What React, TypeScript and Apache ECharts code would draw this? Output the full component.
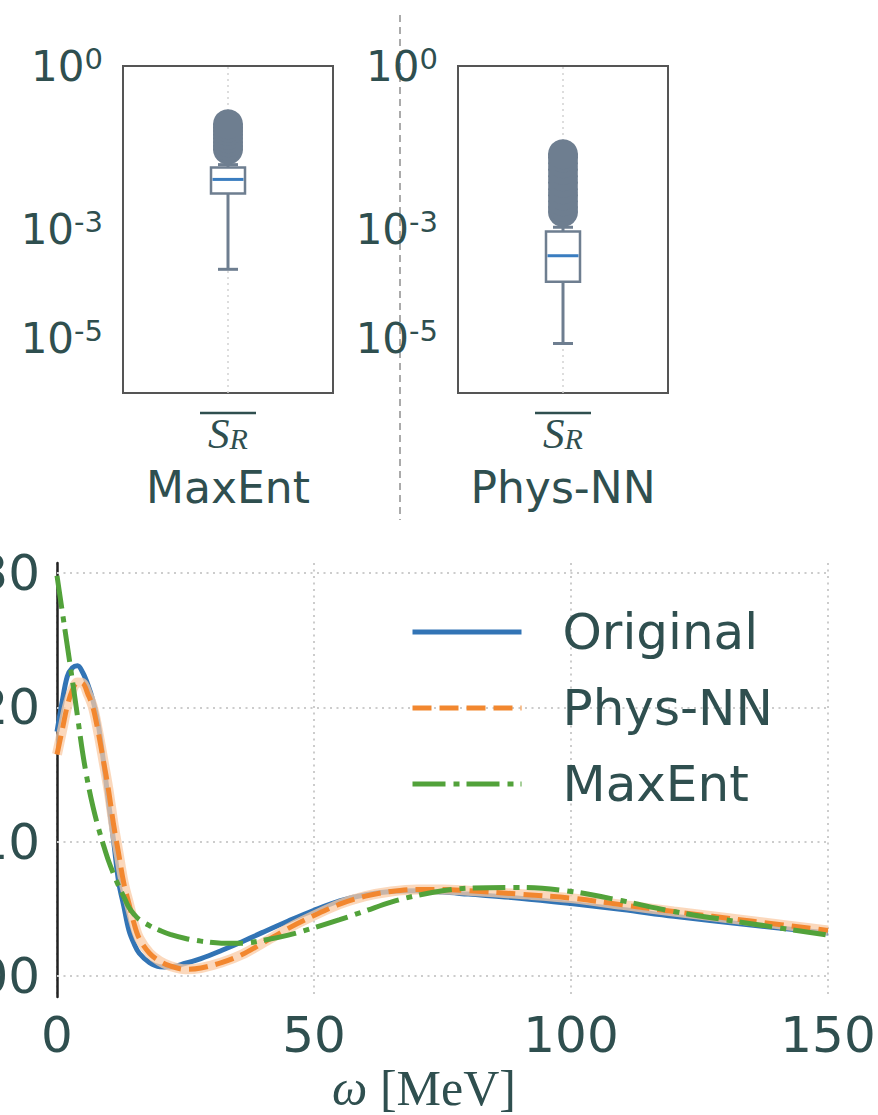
import React, { useEffect, useRef } from 'react';
import * as echarts from 'echarts';

const TEXT = '#2F4F4F';
const SLATE = '#6E7E90';
const GRID = '#cccccc';

// Bottom panel: spectral function rho(omega)
const omega = [0, 1, 2, 3, 4, 5, 6, 7, 8, 9, 10, 11, 12, 13, 14, 15, 16, 18, 20, 22, 25, 28, 32, 36, 40, 45, 50, 55, 60, 65, 70, 75, 80, 90, 100, 110, 120, 135, 150];
const original = [18.2, 20.4, 22.3, 22.95, 23.1, 22.6, 21.7, 20.5, 18.8, 16.1, 13.0, 10.1, 7.0, 5.2, 3.4, 2.4, 1.7, 1.0, 0.7, 0.68, 0.95, 1.3, 1.9, 2.55, 3.25, 4.1, 4.9, 5.6, 6.05, 6.3, 6.35, 6.25, 6.1, 5.8, 5.4, 4.95, 4.45, 3.8, 3.2];
const physNN = [16.5, 18.3, 20.1, 21.3, 21.85, 21.8, 21.0, 20.0, 18.2, 16.1, 13.9, 11.3, 9.1, 6.9, 5.4, 3.9, 2.8, 1.7, 1.1, 0.75, 0.5, 0.6, 1.0, 1.6, 2.45, 3.55, 4.5, 5.35, 5.95, 6.3, 6.45, 6.45, 6.35, 6.1, 5.8, 5.3, 4.8, 4.1, 3.4];
const maxEnt = [29.8, 27.2, 24.6, 22.0, 19.3, 16.6, 14.4, 12.6, 11.1, 9.8, 8.6, 7.6, 6.7, 5.9, 5.1, 4.6, 4.2, 3.75, 3.4, 3.1, 2.8, 2.6, 2.45, 2.45, 2.65, 3.05, 3.6, 4.2, 4.85, 5.5, 6.0, 6.35, 6.55, 6.6, 6.3, 5.6, 4.8, 3.9, 3.05];
const lineNames = ['Original', 'Phys-NN', 'MaxEnt'];
const rhoTicks = [0, 10, 20, 30];
const omegaTicks = [0, 50, 100, 150];

// Top panels: box plots of S_R (min whisker, Q1, median, Q3, max whisker)
const boxNames = ['MaxEnt', 'Phys-NN'];
const boxCategory = ['S_R'];
const maxEntBox = [1.86e-4, 0.0046, 0.0083, 0.0138, 0.0155];
const physNNBox = [8.1e-6, 1.1e-4, 3.3e-4, 9.2e-4, 1.1e-3];
const maxEntOutliers = [0.0294, 0.034, 0.04, 0.047, 0.055, 0.064, 0.074, 0.085];
const physNNOutliers = [0.0021, 0.0026, 0.0033, 0.0042, 0.0055, 0.0072, 0.0095, 0.0125, 0.0165, 0.021, 0.024];
const logTickExps = [0, -3, -5];
const logGridValues = [1e-3, 1e-5];

const dotted = { type: [2, 4.5] as any, color: GRID, width: 2 };

function boxPanel(idx: number, stats: number[], outliers: number[], name: string) {
  const xAxis = {
    type: 'value',
    gridIndex: idx,
    min: -0.5,
    max: 0.5,
    interval: 0.5,
    axisLine: { show: false },
    axisTick: { show: false },
    splitLine: { show: false },
    axisLabel: {
      margin: 20,
      formatter: (v: number) => (Math.abs(v) < 1e-9 ? `{s|${boxCategory[0][0]}}{r|${boxCategory[0][2]}}` : ''),
      rich: {
        s: { fontFamily: 'Liberation Serif', fontStyle: 'italic', fontSize: 43, lineHeight: 40, color: TEXT },
        r: { fontFamily: 'Liberation Serif', fontStyle: 'italic', fontSize: 30, lineHeight: 18, verticalAlign: 'bottom', color: TEXT },
      },
    },
    name,
    nameLocation: 'middle',
    nameGap: 72,
    nameTextStyle: { fontFamily: 'DejaVu Sans', fontSize: 44, color: TEXT, lineHeight: 44 },
  };
  const yAxis = {
    type: 'log',
    gridIndex: idx,
    min: 1e-6,
    max: 1,
    logBase: 10,
    axisLine: { show: false },
    axisTick: { show: false },
    splitLine: { show: false },
    axisLabel: {
      margin: 20,
      showMinLabel: false,
      formatter: (v: number) => {
        const e = Math.round(Math.log10(v));
        return logTickExps.includes(e) ? `{b|10}{s|${e}}` : '';
      },
      rich: {
        b: { fontFamily: 'DejaVu Sans', fontSize: 42, lineHeight: 44, color: TEXT },
        s: { fontFamily: 'DejaVu Sans', fontSize: 29, lineHeight: 20, verticalAlign: 'top', color: TEXT },
      },
    },
  };
  const boxSeries = {
    type: 'custom',
    xAxisIndex: idx,
    yAxisIndex: idx,
    z: 3,
    data: [[0, ...stats]],
    renderItem: (_p: any, api: any) => {
      const x = api.value(0);
      const lo = api.coord([x, api.value(1)]);
      const q1 = api.coord([x, api.value(2)]);
      const md = api.coord([x, api.value(3)]);
      const q3 = api.coord([x, api.value(4)]);
      const hi = api.coord([x, api.value(5)]);
      const bw = 34;
      const cw = 20;
      const st = { stroke: SLATE, lineWidth: 3 };
      return {
        type: 'group',
        children: [
          { type: 'line', shape: { x1: lo[0], y1: lo[1], x2: lo[0], y2: q1[1] }, style: st },
          { type: 'line', shape: { x1: hi[0], y1: hi[1], x2: hi[0], y2: q3[1] }, style: st },
          { type: 'line', shape: { x1: lo[0] - cw / 2, y1: lo[1], x2: lo[0] + cw / 2, y2: lo[1] }, style: st },
          { type: 'line', shape: { x1: hi[0] - cw / 2, y1: hi[1], x2: hi[0] + cw / 2, y2: hi[1] }, style: st },
          { type: 'rect', shape: { x: q3[0] - bw / 2, y: q3[1], width: bw, height: q1[1] - q3[1] }, style: { fill: '#ffffff', stroke: SLATE, lineWidth: 2.5 } },
          { type: 'line', shape: { x1: md[0] - bw / 2 + 1.5, y1: md[1], x2: md[0] + bw / 2 - 1.5, y2: md[1] }, style: { stroke: '#3A7DC0', lineWidth: 3 } },
        ],
      };
    },
  };
  const outlierSeries = {
    type: 'scatter',
    xAxisIndex: idx,
    yAxisIndex: idx,
    z: 4,
    symbol: 'circle',
    symbolSize: 30,
    itemStyle: { color: SLATE, opacity: 1 },
    data: outliers.map((v) => [0, v]),
    markLine: {
      silent: true,
      symbol: 'none',
      z: 1,
      label: { show: false },
      lineStyle: { type: [2, 4] as any, color: '#d2d2d2', width: 1.5 },
      data: [...logGridValues.map((v) => ({ yAxis: v })), { xAxis: 0 }],
    },
  };
  return { xAxis, yAxis, series: [boxSeries, outlierSeries] };
}

function App() {
  const ref = useRef<HTMLDivElement>(null);
  useEffect(() => {
    if (!ref.current) return;
    const chart = echarts.init(ref.current, undefined, { renderer: 'svg' });
    const p0 = boxPanel(0, maxEntBox, maxEntOutliers, boxNames[0]);
    const p1 = boxPanel(1, physNNBox, physNNOutliers, boxNames[1]);
    const toPairs = (ys: number[]) => omega.map((x, i) => [x, ys[i]]);
    const lineBase = { type: 'line', xAxisIndex: 2, yAxisIndex: 2, symbol: 'circle', showSymbol: false, smooth: 0.35 };
    const gridBase = { containLabel: false, outerBoundsMode: 'none' };
    const option: any = {
      animation: false,
      backgroundColor: '#ffffff',
      textStyle: { fontFamily: 'DejaVu Sans', color: TEXT },
      grid: [
        { ...gridBase, left: 123, top: 66, width: 210, height: 327, show: true, borderColor: '#555555', borderWidth: 2, backgroundColor: 'transparent' },
        { ...gridBase, left: 458, top: 66, width: 210, height: 327, show: true, borderColor: '#555555', borderWidth: 2, backgroundColor: 'transparent' },
        { ...gridBase, left: 57, top: 563, width: 771, height: 434 },
      ],
      xAxis: [
        p0.xAxis,
        p1.xAxis,
        {
          type: 'value',
          gridIndex: 2,
          min: omegaTicks[0],
          max: omegaTicks[omegaTicks.length - 1],
          interval: 50,
          axisLine: { show: false },
          axisTick: { show: false },
          splitLine: { show: true, lineStyle: dotted },
          axisLabel: { fontFamily: 'DejaVu Sans', fontSize: 50, lineHeight: 50, color: TEXT, margin: 13 },
          name: '{w|ω}{t| [MeV]}',
          nameLocation: 'middle',
          nameGap: 63,
          nameTextStyle: {
            padding: [0, 37, 0, 0],
            rich: {
              w: { fontFamily: 'Liberation Serif', fontStyle: 'italic', fontSize: 50, lineHeight: 56, color: TEXT },
              t: { fontFamily: 'Liberation Serif', fontSize: 50, lineHeight: 56, color: TEXT },
            },
          },
        },
      ],
      yAxis: [
        p0.yAxis,
        p1.yAxis,
        {
          type: 'value',
          gridIndex: 2,
          min: -1.56,
          max: 30.75,
          axisLine: { show: true, lineStyle: { color: '#222222', width: 2.5 } },
          axisTick: { show: false, customValues: rhoTicks },
          splitLine: { show: false },
          axisLabel: {
            customValues: rhoTicks,
            formatter: (v: number) => (v / 100).toFixed(2),
            fontFamily: 'DejaVu Sans',
            fontSize: 50,
            color: TEXT,
            margin: 17,
          },
        },
      ],
      legend: {
        data: lineNames,
        orient: 'vertical',
        left: 410,
        top: 604,
        itemWidth: 109,
        itemHeight: 20,
        itemGap: 20,
        padding: 0,
        selectedMode: false,
        itemStyle: { opacity: 0 },
        lineStyle: { width: 5 },
        textStyle: { fontFamily: 'DejaVu Sans', fontSize: 50, lineHeight: 56, color: TEXT, padding: [0, 0, 0, 36] },
      },
      graphic: [
        { type: 'line', z: -1, shape: { x1: 400, y1: 15, x2: 400, y2: 520 }, style: { stroke: '#aaaaaa', lineWidth: 2, lineDash: [7, 5] } },
        { type: 'line', shape: { x1: 200, y1: 413, x2: 256, y2: 413 }, style: { stroke: TEXT, lineWidth: 2.5 } },
        { type: 'line', shape: { x1: 535, y1: 413, x2: 591, y2: 413 }, style: { stroke: TEXT, lineWidth: 2.5 } },
      ],
      series: [
        ...p0.series,
        ...p1.series,
        {
          ...lineBase,
          name: lineNames[0],
          data: toPairs(original),
          z: 3,
          lineStyle: { color: '#3274B5', width: 5 },
          itemStyle: { color: '#3274B5' },
          markLine: {
            silent: true,
            symbol: 'none',
            z: 1,
            label: { show: false },
            lineStyle: dotted,
            data: rhoTicks.map((v) => ({ yAxis: v })),
          },
        },
        {
          ...lineBase,
          name: 'Phys-NN band',
          data: toPairs(physNN),
          z: 4,
          lineStyle: { color: '#F9CBA6', width: 10, opacity: 0.75 },
          itemStyle: { color: '#F9CBA6' },
        },
        {
          ...lineBase,
          name: lineNames[1],
          data: toPairs(physNN),
          z: 5,
          lineStyle: { color: '#F2872F', width: 5, type: [19, 8] },
          itemStyle: { color: '#F2872F' },
        },
        {
          ...lineBase,
          name: lineNames[2],
          data: toPairs(maxEnt),
          z: 6,
          lineStyle: { color: '#52A23A', width: 5, type: [33, 8, 6, 7] },
          itemStyle: { color: '#52A23A' },
        },
      ],
    };
    chart.setOption(option);
    return () => chart.dispose();
  }, []);
  return <div ref={ref} style={{ position: 'absolute', left: 0, top: 0, width: 878, height: 1115 }} />;
}

export default App;
